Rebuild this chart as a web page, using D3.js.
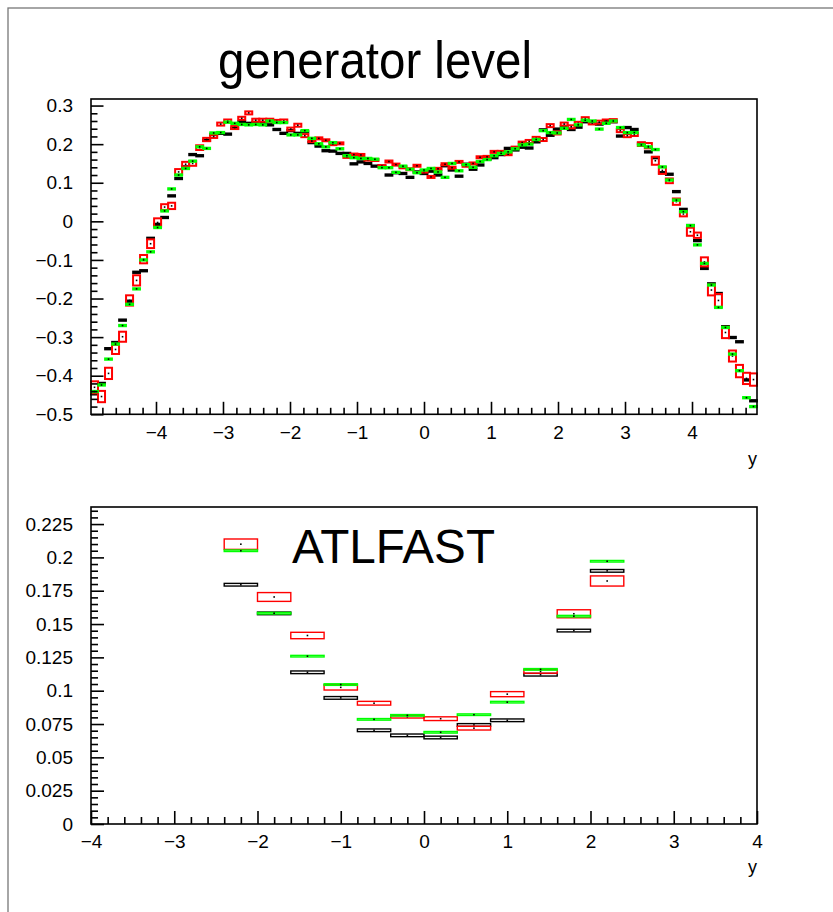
<!DOCTYPE html>
<html>
<head>
<meta charset="utf-8">
<script src="https://cdn.jsdelivr.net/npm/d3@7"></script>
<style>
  html, body { margin: 0; padding: 0; background: #fff; }
  svg { display: block; font-family: "Liberation Sans", Arial, Helvetica, sans-serif; }
</style>
</head>
<body>
<div id="chart"></div>
<script>
// ---- top panel: generator level, 95 bins over the x range ----
const topRange = [-4.97, 4.97];
const topBins = 95;
const topBlack = [
  -0.447, -0.420, -0.330, -0.314, -0.256, -0.207, -0.132, -0.128, -0.044, -0.008,
   0.010,  0.066,  0.111,  0.141,  0.173,  0.170,  0.210,  0.225,  0.228,  0.226,
   0.241,  0.258,  0.254,  0.256,  0.256,  0.250,  0.238,  0.228,  0.235,  0.228,
   0.232,  0.204,  0.195,  0.183,  0.182,  0.176,  0.176,  0.149,  0.154,  0.150,
   0.143,  0.143,  0.120,  0.126,  0.124,  0.114,  0.128,  0.124,  0.130,  0.120,
   0.144,  0.133,  0.117,  0.148,  0.135,  0.146,  0.161,  0.165,  0.173,  0.189,
   0.185,  0.192,  0.190,  0.206,  0.237,  0.223,  0.239,  0.245,  0.238,  0.244,
   0.258,  0.258,  0.252,  0.258,  0.258,  0.221,  0.243,  0.238,  0.202,  0.180,
   0.165,  0.126,  0.122,  0.077,  0.031, -0.011, -0.050, -0.122, -0.162, -0.187,
  -0.273, -0.301, -0.312, -0.411, -0.465
];
const topGreen = [
  -0.441, -0.424, -0.357, -0.318, -0.270, -0.215, -0.175, -0.100, -0.079, -0.016,
   0.027,  0.084,  0.120,  0.137,  0.156,  0.193,  0.189,  0.229,  0.230,  0.257,
   0.254,  0.251,  0.250,  0.251,  0.250,  0.260,  0.256,  0.256,  0.224,  0.224,
   0.235,  0.215,  0.201,  0.193,  0.204,  0.188,  0.170,  0.165,  0.163,  0.163,
   0.161,  0.139,  0.139,  0.127,  0.143,  0.135,  0.126,  0.133,  0.137,  0.128,
   0.114,  0.150,  0.131,  0.147,  0.140,  0.155,  0.160,  0.170,  0.176,  0.180,
   0.188,  0.198,  0.200,  0.212,  0.235,  0.230,  0.229,  0.241,  0.264,  0.250,
   0.262,  0.260,  0.239,  0.254,  0.260,  0.243,  0.230,  0.230,  0.198,  0.193,
   0.186,  0.141,  0.107,  0.055,  0.025, -0.011, -0.061, -0.109, -0.165, -0.223,
  -0.275, -0.344, -0.387, -0.457, -0.480
];
const topRed = [
  -0.430, -0.454, -0.394, -0.332, -0.299, -0.205, -0.153, -0.098, -0.058, -0.003,
   0.037,  0.040,  0.128,  0.148,  0.150,  0.191,  0.212,  0.220,  0.252,  0.260,
   0.243,  0.267,  0.281,  0.262,  0.262,  0.262,  0.259,  0.260,  0.239,  0.249,
   0.222,  0.208,  0.215,  0.210,  0.200,  0.202,  0.167,  0.173,  0.172,  0.160,
   0.159,  0.143,  0.155,  0.147,  0.140,  0.135,  0.144,  0.129,  0.115,  0.136,
   0.148,  0.139,  0.154,  0.144,  0.150,  0.166,  0.167,  0.180,  0.180,  0.174,
   0.191,  0.204,  0.207,  0.215,  0.212,  0.248,  0.229,  0.252,  0.245,  0.254,
   0.266,  0.255,  0.257,  0.260,  0.261,  0.235,  0.222,  0.225,  0.200,  0.196,
   0.157,  0.132,  0.105,  0.051,  0.019, -0.027, -0.036, -0.105, -0.178, -0.205,
  -0.288, -0.349, -0.388, -0.407, -0.410
];
const topRedErr = [
  0.0155, 0.0146, 0.0146, 0.0117, 0.0130, 0.0133, 0.0133, 0.0108, 0.0113, 0.0108,
  0.0074, 0.0082, 0.0074, 0.0061, 0.0061, 0.0061, 0.0043, 0.0039, 0.0039, 0.0039,
  0.0039, 0.0039, 0.0039, 0.0039, 0.0039, 0.0039, 0.0039, 0.0039, 0.0039, 0.0039,
  0.0039, 0.0026, 0.0026, 0.0026, 0.0026, 0.0026, 0.0026, 0.0026, 0.0026, 0.0026,
  0.0026, 0.0026, 0.0026, 0.0026, 0.0026, 0.0026, 0.0026, 0.0026, 0.0026, 0.0026,
  0.0026, 0.0026, 0.0026, 0.0026, 0.0026, 0.0026, 0.0026, 0.0026, 0.0026, 0.0026,
  0.0026, 0.0026, 0.0039, 0.0039, 0.0039, 0.0039, 0.0039, 0.0039, 0.0039, 0.0039,
  0.0039, 0.0039, 0.0039, 0.0039, 0.0039, 0.0039, 0.0039, 0.0039, 0.0048, 0.0069,
  0.0104, 0.0091, 0.0061, 0.0082, 0.0061, 0.0104, 0.0069, 0.0117, 0.0139, 0.0168,
  0.0146, 0.0143, 0.0160, 0.0146, 0.0160
];
const topSmallErr = 0.002; // black and green boxes are all about this thin

const topXTicks = [-4, -3, -2, -1, 0, 1, 2, 3, 4];
const topXLabels = ['\u22124', '\u22123', '\u22122', '\u22121', '0', '1', '2', '3', '4'];
const topYTicks = [-0.5, -0.4, -0.3, -0.2, -0.1, 0, 0.1, 0.2, 0.3];
const topYLabels = ['\u22120.5', '\u22120.4', '\u22120.3', '\u22120.2', '\u22120.1', '0', '0.1', '0.2', '0.3'];

// ---- bottom panel: ATLFAST, bins of 0.4 ----
const botCenters = [-2.2, -1.8, -1.4, -1.0, -0.6, -0.2, 0.2, 0.6, 1.0, 1.4, 1.8, 2.2];
const botWidth = 0.4;
const botBlack = [0.1795, 0.1580, 0.1138, 0.0946, 0.0703, 0.0665, 0.0649, 0.0743, 0.0778, 0.1120, 0.1451, 0.1899];
const botGreen = [0.2050, 0.1581, 0.1259, 0.1046, 0.0785, 0.0815, 0.0688, 0.0820, 0.0914, 0.1160, 0.1559, 0.1971];
const botRed   = [0.2099, 0.1703, 0.1414, 0.1025, 0.0906, 0.0805, 0.0790, 0.0719, 0.0974, 0.1145, 0.1577, 0.1823];
const botRedErr = [0.0039, 0.0033, 0.0024, 0.0020, 0.0014, 0.0010, 0.0014, 0.0014, 0.0019, 0.0014, 0.0030, 0.0038];
const botBlackErr = 0.001;
const botGreenErr = 0.0006;

const botXTicks = [-4, -3, -2, -1, 0, 1, 2, 3, 4];
const botXLabels = ['\u22124', '\u22123', '\u22122', '\u22121', '0', '1', '2', '3', '4'];
const botYTicks = [0, 0.025, 0.05, 0.075, 0.1, 0.125, 0.15, 0.175, 0.2, 0.225];
const botYLabels = ['0', '0.025', '0.05', '0.075', '0.1', '0.125', '0.15', '0.175', '0.2', '0.225'];

const W = 833, H = 912;
const GREEN = '#00ff00';
const svg = d3.select('#chart').append('svg')
    .attr('width', W)
    .attr('height', H);

svg.append('rect').attr('width', W).attr('height', H).attr('fill', '#fff');

// page frame (grey, top and left only visible)
svg.append('rect')
    .attr('x', 8).attr('y', 8)
    .attr('width', W + 20).attr('height', H + 20)
    .attr('fill', 'none')
    .attr('stroke', '#777')
    .attr('stroke-width', 1.3);

function drawAxes(g, x, y, o) {
    const x0 = x.range()[0], x1 = x.range()[1];
    const yb = y.range()[0], yt = y.range()[1];

    // minor ticks
    g.append('g')
        .attr('transform', `translate(0,${yb})`)
        .call(d3.axisBottom(x).tickValues(o.xMinor).tickSize(-o.minorLen).tickSizeOuter(0).tickFormat(''));
    g.append('g')
        .attr('transform', `translate(${x0},0)`)
        .call(d3.axisLeft(y).tickValues(o.yMinor).tickSize(-o.minorLen).tickSizeOuter(0).tickFormat(''));

    // major ticks with labels
    g.append('g')
        .attr('transform', `translate(0,${yb})`)
        .call(d3.axisBottom(x).tickValues(o.xTicks).tickSize(-o.majorLen).tickSizeOuter(0)
            .tickPadding(11).tickFormat((d, i) => o.xLabels[i]));
    g.append('g')
        .attr('transform', `translate(${x0},0)`)
        .call(d3.axisLeft(y).tickValues(o.yTicks).tickSize(-o.majorLen).tickSizeOuter(0)
            .tickPadding(18).tickFormat((d, i) => o.yLabels[i]));

    g.selectAll('.domain').remove();
    g.selectAll('.tick line').attr('stroke', '#000').attr('stroke-width', 1.6);
    g.selectAll('.tick text')
        .attr('fill', '#000')
        .style('font-size', '19px')
        .style('font-family', '"Liberation Sans", Arial, sans-serif');

    // frame
    g.append('rect')
        .attr('x', x0).attr('y', yt)
        .attr('width', x1 - x0).attr('height', yb - yt)
        .attr('fill', 'none')
        .attr('stroke', '#000')
        .attr('stroke-width', 1.6);

    // axis title
    g.append('text')
        .attr('x', x1).attr('y', yb + o.titleDy)
        .attr('text-anchor', 'end')
        .style('font-size', '18px')
        .text('y');
}

function drawBoxes(g, x, y, rows, color, sw) {
    g.append('g').selectAll('rect')
        .data(rows)
        .enter()
        .append('rect')
        .attr('x', d => x(d.lo))
        .attr('width', d => x(d.hi) - x(d.lo))
        .attr('y', d => y(d.v + d.e))
        .attr('height', d => Math.max(0.5, y(d.v - d.e) - y(d.v + d.e)))
        .attr('fill', 'none')
        .attr('stroke', color)
        .attr('stroke-width', sw);
    // small marker in the middle of each box
    g.append('g').selectAll('rect')
        .data(rows)
        .enter()
        .append('rect')
        .attr('x', d => x((d.lo + d.hi) / 2) - 0.8)
        .attr('y', d => y(d.v) - 0.8)
        .attr('width', 1.6)
        .attr('height', 1.6)
        .attr('fill', '#000');
}

// ---- top panel ----
const xTop = d3.scaleLinear().domain(topRange).range([91, 757]);
const yTop = d3.scaleLinear().domain([-0.5, 0.317]).range([414.3, 99]);
const topStep = (topRange[1] - topRange[0]) / topBins;
const topRows = (vals, errs) => vals.map((v, i) => ({
    lo: topRange[0] + i * topStep,
    hi: topRange[0] + (i + 1) * topStep,
    v: v,
    e: Array.isArray(errs) ? errs[i] : errs
}));

const gTop = svg.append('g');
const topBoxes = gTop.append('g');
drawBoxes(topBoxes, xTop, yTop, topRows(topBlack, topSmallErr), '#000', 1.8);
drawBoxes(topBoxes, xTop, yTop, topRows(topRed, topRedErr), '#ff0000', 2);
drawBoxes(topBoxes, xTop, yTop, topRows(topGreen, topSmallErr), GREEN, 1.8);

drawAxes(gTop, xTop, yTop, {
    xTicks: topXTicks, xLabels: topXLabels,
    yTicks: topYTicks, yLabels: topYLabels,
    xMinor: d3.range(-24, 25).filter(k => k % 5 !== 0).map(k => k * 0.2),
    yMinor: d3.range(-25, 16).filter(k => k % 5 !== 0).map(k => k * 0.02),
    majorLen: 12.5, minorLen: 6.5, titleDy: 51
});

svg.append('text')
    .attr('x', 218).attr('y', 78)
    .attr('textLength', 314)
    .attr('lengthAdjust', 'spacingAndGlyphs')
    .style('font-size', '52px')
    .text('generator level');

// ---- bottom panel ----
const xBot = d3.scaleLinear().domain([-4, 4]).range([91, 757]);
const yBot = d3.scaleLinear().domain([0, 0.2378]).range([824, 507]);
const botRows = (vals, errs) => vals.map((v, i) => ({
    lo: botCenters[i] - botWidth / 2,
    hi: botCenters[i] + botWidth / 2,
    v: v,
    e: Array.isArray(errs) ? errs[i] : errs
}));

const gBot = svg.append('g');
const botBoxes = gBot.append('g');
drawBoxes(botBoxes, xBot, yBot, botRows(botBlack, botBlackErr), '#000', 1.4);
drawBoxes(botBoxes, xBot, yBot, botRows(botRed, botRedErr), '#ff0000', 1.4);
drawBoxes(botBoxes, xBot, yBot, botRows(botGreen, botGreenErr), GREEN, 1.4);

drawAxes(gBot, xBot, yBot, {
    xTicks: botXTicks, xLabels: botXLabels,
    yTicks: botYTicks, yLabels: botYLabels,
    xMinor: d3.range(-20, 21).filter(k => k % 5 !== 0).map(k => k * 0.2),
    yMinor: d3.range(0, 48).filter(k => k % 5 !== 0).map(k => k * 0.005),
    majorLen: 13, minorLen: 7, titleDy: 49
});

svg.append('text')
    .attr('x', 292).attr('y', 563)
    .attr('textLength', 203)
    .attr('lengthAdjust', 'spacingAndGlyphs')
    .style('font-size', '48px')
    .text('ATLFAST');
</script>
</body>
</html>
